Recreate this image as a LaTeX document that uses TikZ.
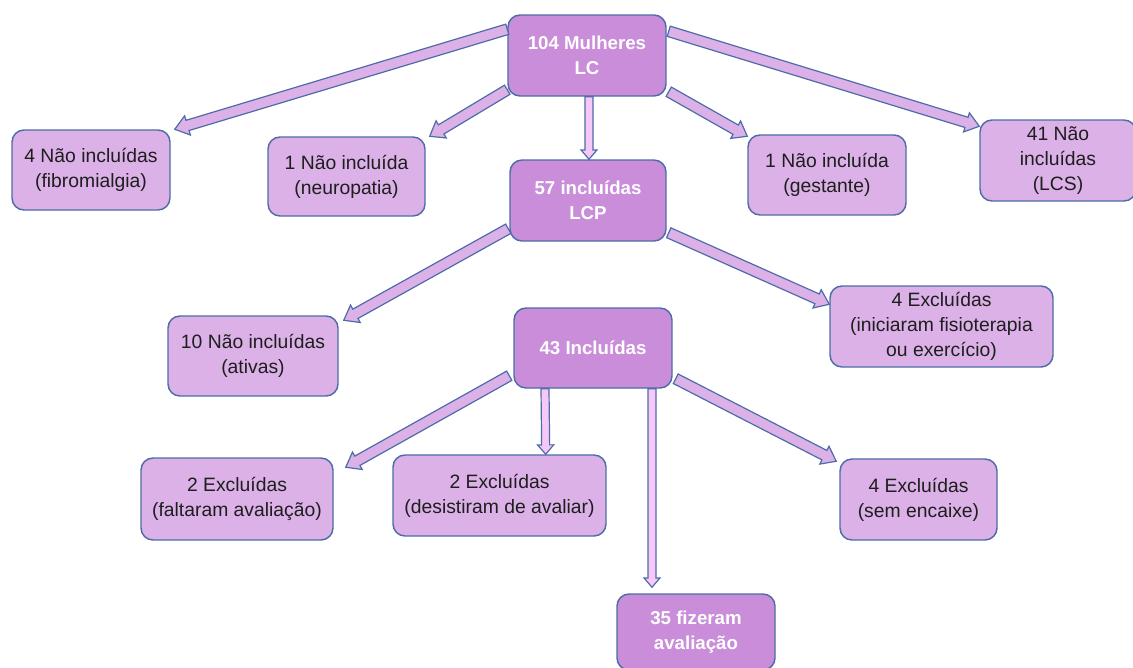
\documentclass[tikz,border=0pt]{standalone}
\usepackage{fontspec}
\setmainfont{Liberation Sans}
\usetikzlibrary{calc}
\definecolor{edgeblue}{HTML}{4E6DA8}
\definecolor{darkfill}{HTML}{C98DD9}
\definecolor{lightfill}{HTML}{DBB1E7}
\definecolor{pinkfill}{HTML}{F5C8F8}
\definecolor{txt}{HTML}{1E1E1E}
\tikzset{
  box/.style={draw=edgeblue, line width=1.1pt, rounded corners=9pt, align=center,
    inner sep=2pt, font=\fontsize{14.5}{18.75}\selectfont},
  lightbox/.style={box, fill=lightfill, text=txt},
  darkbox/.style={box, fill=darkfill, text=white,
    font=\fontsize{14}{18.75}\selectfont\bfseries},
  blockarrow/.style={draw=edgeblue, line width=0.9pt, line join=miter},
}
% block arrow: #1 start, #2 end, #3 fill, #4 shaft half width, #5 head half width, #6 head length
\newcommand\barrow[6]{%
  \path (#1) coordinate (bS) (#2) coordinate (bE);
  \path ($(bE)!#6!(bS)$) coordinate (bC);
  \filldraw[blockarrow, fill=#3]
    ($(bS)!#4!90:(bE)$) -- ($(bC)!#4!-90:(bS)$) -- ($(bC)!#5!-90:(bS)$) -- (bE)
    -- ($(bC)!#5!90:(bS)$) -- ($(bC)!#4!90:(bS)$) -- ($(bS)!#4!-90:(bE)$) -- cycle;
}
\begin{document}
\begin{tikzpicture}[x=0.75pt,y=-0.75pt]
\clip (0,0) rectangle (1133,668);
\fill[white] (0,0) rectangle (1133,668);

\node[darkbox, minimum width=118.5pt, minimum height=60.75pt] (top) at (587,55.5) {104 Mulheres\\LC};
\node[lightbox, minimum width=118.5pt, minimum height=60pt] (fib) at (91,170) {4 Não incluídas\\(fibromialgia)};
\node[lightbox, minimum width=117.75pt, minimum height=59.25pt] (neu) at (346.5,176.5) {1 Não incluída\\(neuropatia)};
\node[darkbox, minimum width=117pt, minimum height=60.75pt] (i57) at (588,200.5) {57 incluídas\\LCP};
\node[lightbox, minimum width=118.5pt, minimum height=60pt] (ges) at (827,175) {1 Não incluída\\(gestante)};
\node[lightbox, minimum width=117pt, minimum height=60.75pt] (lcs) at (1058,160.5) {41 Não\\incluídas\\(LCS)};
\node[lightbox, minimum width=127.5pt, minimum height=60pt] (ativ) at (253,356) {10 Não incluídas\\(ativas)};
\node[lightbox, minimum width=167.25pt, minimum height=60.75pt] (exc) at (941.5,326.5) {4 Excluídas\\(iniciaram fisioterapia\\ou exercício)};
\node[darkbox, minimum width=118.5pt, minimum height=60pt] (i43) at (593,348) {43 Incluídas};
\node[lightbox, minimum width=144pt, minimum height=61.5pt] (falt) at (237,499) {2 Excluídas\\(faltaram avaliação)};
\node[lightbox, minimum width=159.75pt, minimum height=60.75pt] (des) at (499.5,495.5) {2 Excluídas\\(desistiram de avaliar)};
\node[lightbox, minimum width=117.75pt, minimum height=60.75pt] (sem) at (918.5,499.5) {4 Excluídas\\(sem encaixe)};
\node[darkbox, minimum width=118.5pt, minimum height=57pt] (fiz) at (696,632) {35 fizeram\\avaliação};

% arrows from top
\barrow{$(top.north west)+(0,15)$}{$(fib.north east)+(4,0)$}{lightfill}{4pt}{7.5pt}{10pt}
\barrow{$(top.south west)+(0,-7)$}{$(neu.north east)+(4,0)$}{lightfill}{4pt}{7.5pt}{10pt}
\barrow{$(top.south)+(2,0)$}{$(i57.north)+(1,0)$}{pinkfill}{3pt}{6pt}{7pt}
\barrow{$(top.south east)+(2,-5)$}{$(ges.north west)+(0,2)$}{lightfill}{4pt}{7.5pt}{10pt}
\barrow{$(top.north east)+(2,17)$}{$(lcs.north west)+(0,7)$}{lightfill}{4pt}{7.5pt}{10pt}
% arrows from 57
\barrow{$(i57.south west)+(-1,-13)$}{$(ativ.north east)+(5,5)$}{lightfill}{4pt}{7.5pt}{10pt}
\barrow{$(i57.south east)+(2,-9)$}{$(exc.north west)+(0,19)$}{lightfill}{4pt}{7.5pt}{10pt}
% arrows from 43
\barrow{$(i43.south west)+(-4,-13)$}{$(falt.north east)+(12,10)$}{lightfill}{4pt}{7.5pt}{10pt}
\barrow{$(i43.south)+(-48,0)$}{$(des.north east)+(-61,0)$}{pinkfill}{3pt}{6pt}{7pt}
\barrow{$(i43.south)+(59,0)$}{$(fiz.north)+(-44,-6)$}{pinkfill}{3pt}{6pt}{7pt}
\barrow{$(i43.south east)+(3,-10)$}{$(sem.north west)+(-3,3)$}{lightfill}{4pt}{7.5pt}{10pt}
\end{tikzpicture}
\end{document}
